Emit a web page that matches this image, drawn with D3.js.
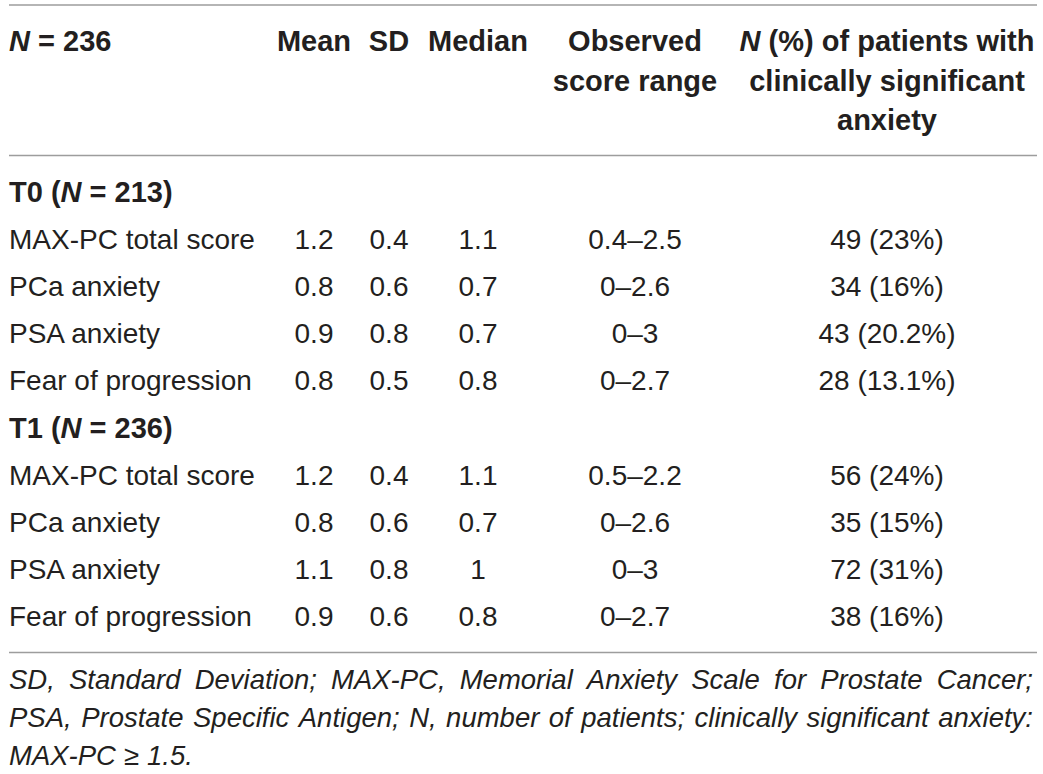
<!DOCTYPE html>
<html>
<head>
<meta charset="utf-8">
<script src="https://cdn.jsdelivr.net/npm/d3@7"></script>
<style>
  body { margin: 0; background: #fff; }
  svg text { font-family: "Liberation Sans", Arial, Helvetica, sans-serif; fill: #231f20; }
</style>
</head>
<body>
<div id="tbl"></div>
<script>
// column keys + header lines
const columnKeys = ["label", "mean", "sd", "median", "range", "npct"];
const headerLines = [
    ["N = 236"],
    ["Mean"],
    ["SD"],
    ["Median"],
    ["Observed", "score range"],
    ["N (%) of patients with", "clinically significant", "anxiety"]
];

const groups = ["T0", "T1"];
const groupN = [213, 236];
const measures = ["MAX-PC total score", "PCa anxiety", "PSA anxiety", "Fear of progression"];

const meanT0 = [1.2, 0.8, 0.9, 0.8];
const sdT0 = [0.4, 0.6, 0.8, 0.5];
const medianT0 = [1.1, 0.7, 0.7, 0.8];
const rangeT0 = ["0.4–2.5", "0–2.6", "0–3", "0–2.7"];
const nT0 = [49, 34, 43, 28];
const pctT0 = ["23%", "16%", "20.2%", "13.1%"];

const meanT1 = [1.2, 0.8, 1.1, 0.9];
const sdT1 = [0.4, 0.6, 0.8, 0.6];
const medianT1 = [1.1, 0.7, 1, 0.8];
const rangeT1 = ["0.5–2.2", "0–2.6", "0–3", "0–2.7"];
const nT1 = [56, 35, 72, 38];
const pctT1 = ["24%", "15%", "31%", "16%"];

const footnoteLines = [
    "SD, Standard Deviation; MAX-PC, Memorial Anxiety Scale for Prostate Cancer;",
    "PSA, Prostate Specific Antigen; N, number of patients; clinically significant anxiety:",
    "MAX-PC ≥ 1.5."
];

const width = 1043, height = 774;
const left = 9, right = 1037;

const svg = d3.select("#tbl").append("svg")
    .attr("width", width)
    .attr("height", height);

// column centre positions
const x = d3.scaleOrdinal()
    .domain(columnKeys)
    .range([left, 314, 389, 478, 635, 887]);

// body rows (group header + 4 measures, twice)
const rows = [];
groups.forEach((g, gi) => {
    rows.push({ type: "group", name: g, n: groupN[gi] });
    const mean = gi === 0 ? meanT0 : meanT1;
    const sd = gi === 0 ? sdT0 : sdT1;
    const median = gi === 0 ? medianT0 : medianT1;
    const range = gi === 0 ? rangeT0 : rangeT1;
    const n = gi === 0 ? nT0 : nT1;
    const pct = gi === 0 ? pctT0 : pctT1;
    measures.forEach((m, i) => {
        rows.push({
            type: "row",
            label: m,
            mean: mean[i], sd: sd[i], median: median[i],
            range: range[i],
            npct: `${n[i]} (${pct[i]})`
        });
    });
});

const y = d3.scaleLinear()
    .domain([0, rows.length - 1])
    .range([202, 626]);

// rules
[5, 155.5, 652.5].forEach(yy => {
    svg.append("line")
        .attr("x1", left).attr("x2", right)
        .attr("y1", yy).attr("y2", yy)
        .attr("stroke", "#9d9d9d")
        .attr("stroke-width", 1.6);
});

// header
const headG = svg.append("g").style("font-weight", "bold").style("font-size", "29px");
headerLines.forEach((lines, ci) => {
    lines.forEach((line, li) => {
        const t = headG.append("text")
            .attr("x", x(columnKeys[ci]))
            .attr("y", 51 + li * 39.5)
            .attr("text-anchor", ci === 0 ? "start" : "middle");
        if (line.startsWith("N ")) {
            t.append("tspan").style("font-style", "italic").text("N");
            t.append("tspan").text(line.slice(1));
        } else {
            t.text(line);
        }
    });
});

// body
const bodyG = svg.append("g").style("font-size", "28px");
rows.forEach((r, i) => {
    if (r.type === "group") {
        const t = bodyG.append("text")
            .attr("x", x("label"))
            .attr("y", y(i))
            .style("font-weight", "bold")
            .style("font-size", "29px");
        t.append("tspan").text(`${r.name} (`);
        t.append("tspan").style("font-style", "italic").text("N");
        t.append("tspan").text(` = ${r.n})`);
    } else {
        columnKeys.forEach(k => {
            bodyG.append("text")
                .attr("x", x(k))
                .attr("y", y(i))
                .attr("text-anchor", k === "label" ? "start" : "middle")
                .text(r[k]);
        });
    }
});

// footnote, justified
const footG = svg.append("g").style("font-size", "27.5px").style("font-style", "italic");
footnoteLines.forEach((line, li) => {
    const words = line.split(" ");
    const yy = 689 + li * 38;
    const nodes = words.map(w => footG.append("text").attr("y", yy).text(w));
    const widths = nodes.map(n => n.node().getComputedTextLength());
    const total = d3.sum(widths);
    const last = li === footnoteLines.length - 1;
    const spaceW = last ? 8 : (right - 4 - left - total) / (words.length - 1);
    let cx = left;
    nodes.forEach((n, wi) => {
        n.attr("x", cx);
        cx += widths[wi] + spaceW;
    });
});
</script>
</body>
</html>
